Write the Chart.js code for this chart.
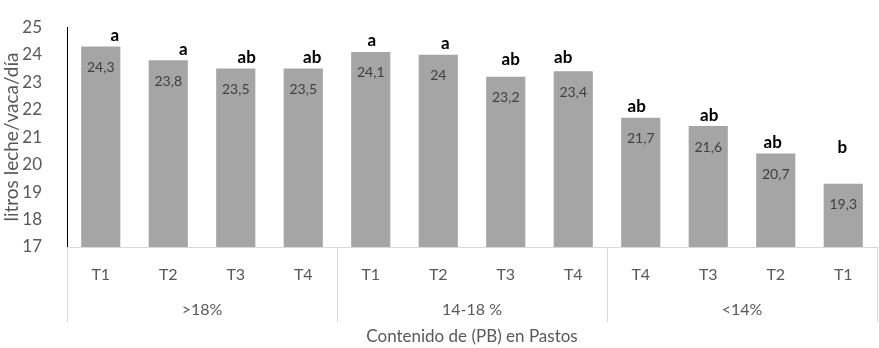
<!DOCTYPE html>
<html>
<head>
<meta charset="utf-8">
<script src="https://cdn.jsdelivr.net/npm/chart.js@4/dist/chart.umd.min.js"></script>
<style>
html,body{margin:0;padding:0;background:#fff;}
#wrap{width:879px;height:348px;}
</style>
</head>
<body>
<div id="wrap"><canvas id="c" width="879" height="348"></canvas></div>
<script>
// ---- data ----
const categories = ["T1","T2","T3","T4","T1","T2","T3","T4","T4","T3","T2","T1"];
const groups = [">18%","14-18 %","<14%"];
const groupSizes = [4,4,4];
const barValues = [24.3,23.8,23.5,23.5,24.1,24.0,23.2,23.4,21.7,21.4,20.4,19.3];
const valueLabels = ["24,3","23,8","23,5","23,5","24,1","24","23,2","23,4","21,7","21,6","20,7","19,3"];
const letters = ["a","a","ab","ab","a","a","ab","ab","ab","ab","ab","b"];
const yTicks = [17,18,19,20,21,22,23,24,25];

// ---- style (letter offsets in px) ----
const letterDx = [14,15,11,9,1,7,5,-10,-4,1,-3,-1];
const letterDy = [11,11,11,11,11,11,17,14,11,11,11,36];
const FONT = "Lato, 'Open Sans', sans-serif";

const annot = {
  id: 'annot',
  afterDatasetsDraw(chart) {
    const ctx = chart.ctx;
    const meta = chart.getDatasetMeta(0);
    const xs = chart.scales.x;
    const area = chart.chartArea;
    ctx.save();
    ctx.textAlign = 'center';
    ctx.textBaseline = 'middle';
    meta.data.forEach((bar, i) => {
      ctx.font = "14px " + FONT;
      ctx.fillStyle = '#404040';
      ctx.fillText(valueLabels[i], bar.x, bar.y + 21);
      ctx.font = "bold 17px " + FONT;
      ctx.fillStyle = '#000';
      ctx.fillText(letters[i], bar.x + letterDx[i], bar.y - letterDy[i]);
    });
    const bounds = [];
    let idx = 0;
    bounds.push(area.left);
    groupSizes.forEach((n) => {
      idx += n;
      if (idx >= categories.length) bounds.push(area.right);
      else bounds.push((xs.getPixelForValue(idx - 1) + xs.getPixelForValue(idx)) / 2);
    });
    ctx.strokeStyle = '#d9d9d9';
    ctx.lineWidth = 1;
    bounds.forEach((b) => {
      const x = Math.round(b) + 0.5;
      ctx.beginPath();
      ctx.moveTo(x, area.bottom);
      ctx.lineTo(x, 322);
      ctx.stroke();
    });
    ctx.font = "16px " + FONT;
    ctx.fillStyle = '#595959';
    groups.forEach((g, i) => {
      ctx.fillText(g, (bounds[i] + bounds[i + 1]) / 2, 310);
    });
    ctx.restore();
  }
};

new Chart(document.getElementById('c'), {
  type: 'bar',
  data: {
    labels: categories,
    datasets: [{
      data: barValues,
      backgroundColor: '#a5a5a5',
      borderWidth: 0,
      categoryPercentage: 1,
      barPercentage: 0.58
    }]
  },
  options: {
    responsive: false,
    animation: false,
    layout: { padding: { top: 12, right: 2, left: 0, bottom: 0 } },
    plugins: { legend: { display: false }, tooltip: { enabled: false } },
    scales: {
      x: {
        grid: { display: false },
        border: { color: '#d9d9d9', width: 1 },
        ticks: { color: '#595959', font: { family: FONT, size: 16 }, padding: 10, maxRotation: 0, autoSkip: false },
        title: { display: true, text: 'Contenido de (PB) en Pastos', color: '#595959', font: { family: FONT, size: 17 }, padding: { top: 0, bottom: 1 } },
        afterFit(s) { s.height = 101; }
      },
      y: {
        min: 17, max: 25,
        afterBuildTicks(s) { s.ticks = yTicks.map(v => ({ value: v })); },
        grid: { display: false },
        border: { color: '#000', width: 1 },
        ticks: { color: '#595959', font: { family: FONT, size: 17 }, padding: 17 },
        title: { display: true, text: 'litros leche/vaca/día', color: '#595959', font: { family: FONT, size: 19 }, padding: { top: 0, bottom: 0 } },
        afterFit(s) { s.width = 67; }
      }
    }
  },
  plugins: [annot]
});
</script>
</body>
</html>
